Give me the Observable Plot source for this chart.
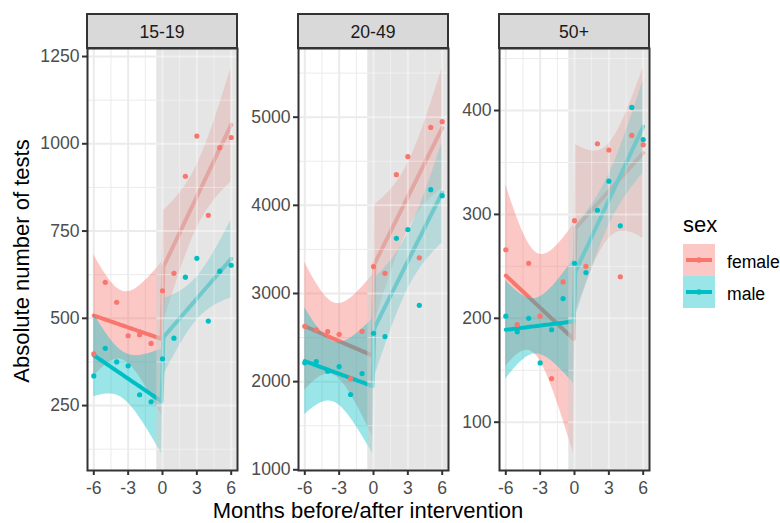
<!DOCTYPE html>
<html>
<head>
<meta charset="utf-8">
<script src="https://cdn.jsdelivr.net/npm/d3@7"></script>
<script src="https://cdn.jsdelivr.net/npm/@observablehq/plot@0.6"></script>
<style>
  body { margin: 0; background: #fff; font-family: "Liberation Sans", Arial, sans-serif; }
  #chart { position: relative; width: 780px; height: 523px; overflow: hidden; background: #fff; }
  .panel { position: absolute; }
  .strip { position: absolute; box-sizing: border-box; background: #d9d9d9; border: 2px solid #333;
           color: #1a1a1a; font-size: 17.6px; display: flex; align-items: center; justify-content: center; padding-top: 2px; }
  #overlay { position: absolute; left: 0; top: 0; }
</style>
</head>
<body>
<div id="chart"></div>
<script>
// ---------- data ----------
const months = [-6, -5, -4, -3, -2, -1, 0, 1, 2, 3, 4, 5, 6];
const ageGroups = ["15-19", "20-49", "50+"];
const sexes = ["female", "male"];

const female_15_19 = [398, 603, 546, 450, 453, 428, 579, 629, 907, 1022, 795, 989, 1018];
const male_15_19   = [335, 414, 375, 364, 281, 261, 384, 443, 618, 672, 492, 635, 652];
const female_20_49 = [2628, 2587, 2568, 2537, 2035, 2571, 3305, 3229, 4348, 4552, 3404, 4884, 4949];
const male_20_49   = [2213, 2228, 2118, 2171, 1854, 2092, 2549, 2511, 3626, 3725, 2866, 4178, 4110];
const female_50    = [266, 194, 253, 202, 142, 235, 294, 250, 368, 362, 240, 376, 367];
const male_50      = [202, 187, 200, 157, 189, 219, 253, 244, 304, 332, 289, 403, 372];

const yTicks_15_19 = [250, 500, 750, 1000, 1250];
const yMinor_15_19 = [125, 375, 625, 875, 1125];
const yTicks_20_49 = [1000, 2000, 3000, 4000, 5000];
const yMinor_20_49 = [1500, 2500, 3500, 4500, 5500];
const yTicks_50    = [100, 200, 300, 400];
const yMinor_50    = [150, 250, 350, 450];
const xTicks = [-6, -3, 0, 3, 6];
const xMinor = [-4.5, -1.5, 1.5, 4.5];
const interventionStart = -0.5;

// ---------- config ----------
const colors = { female: "#F8766D", male: "#00BFC4" };
const panels = [
  { label: ageGroups[0], female: female_15_19, male: male_15_19, ticks: yTicks_15_19, minor: yMinor_15_19, domain: [64, 1273], left: 87 },
  { label: ageGroups[1], female: female_20_49, male: male_20_49, ticks: yTicks_20_49, minor: yMinor_20_49, domain: [992, 5779], left: 298 },
  { label: ageGroups[2], female: female_50,    male: male_50,    ticks: yTicks_50,    minor: yMinor_50,    domain: [53.5, 459.7], left: 499 }
];
const xDomain = [-6.55, 6.55];
const W = 150, H = 422, ML = 60, MR = 4, MT = 4, MB = 40, PANEL_TOP = 48;

// segmented (interrupted time series) linear fit with 95% CI, like geom_smooth(method = "lm")
function segmentedFit(ys) {
  const pre = [], post = [];
  months.forEach((m, i) => (m < 0 ? pre : post).push([m, ys[i]]));
  const seg = pts => {
    const n = pts.length;
    const xm = d3.mean(pts, p => p[0]);
    const ym = d3.mean(pts, p => p[1]);
    const sxx = d3.sum(pts, p => (p[0] - xm) ** 2);
    const sxy = d3.sum(pts, p => (p[0] - xm) * (p[1] - ym));
    const b = sxy / sxx;
    const rss = d3.sum(pts, p => (p[1] - (ym + b * (p[0] - xm))) ** 2);
    return { n, xm, ym, sxx, b, rss };
  };
  const a = seg(pre), c = seg(post);
  const df = months.length - 4;
  const s = Math.sqrt((a.rss + c.rss) / df);
  const t = 2.262157; // qt(0.975, 9)
  const [x0, x1] = d3.extent(months);
  return d3.range(80).map(i => {
    const x = x0 + (x1 - x0) * i / 79;
    const f = x >= 0 ? c : a;
    const yhat = f.ym + f.b * (x - f.xm);
    const se = s * Math.sqrt(1 / f.n + (x - f.xm) ** 2 / f.sxx);
    return { x, y: yhat, lo: yhat - t * se, hi: yhat + t * se };
  });
}

const chart = document.getElementById("chart");

panels.forEach(p => {
  const pts = [];
  sexes.forEach(sx => months.forEach((m, i) => pts.push({ month: m, value: p[sx][i], sex: sx })));
  const fitF = segmentedFit(p.female);
  const fitM = segmentedFit(p.male);
  const allY = p.ticks.concat(p.minor);
  const hWhite = allY.map(v => ({ y: v, x1: xDomain[0], x2: interventionStart }));
  const hGrey  = allY.map(v => ({ y: v, x1: interventionStart, x2: xDomain[1] }));
  const isMajorY = v => p.ticks.includes(v);
  const vWhiteMajor = xTicks.filter(v => v < interventionStart);
  const vWhiteMinor = xMinor.filter(v => v < interventionStart);
  const vGreyMajor = xTicks.filter(v => v > interventionStart);
  const vGreyMinor = xMinor.filter(v => v > interventionStart);
  const band = [{ x1: interventionStart, x2: xDomain[1], y1: p.domain[0], y2: p.domain[1] }];

  const svg = Plot.plot({
    width: ML + W + MR, height: MT + H + MB,
    marginLeft: ML, marginRight: MR, marginTop: MT, marginBottom: MB,
    x: { domain: xDomain },
    y: { domain: p.domain },
    style: { fontFamily: '"Liberation Sans", Arial, sans-serif', fontSize: "17.6px", background: "transparent", overflow: "visible" },
    marks: [
      // grid (white region)
      Plot.ruleX(vWhiteMajor, { stroke: "#ebebeb", strokeWidth: 2 }),
      Plot.ruleX(vWhiteMinor, { stroke: "#ebebeb", strokeWidth: 1 }),
      Plot.ruleY(hWhite.filter(d => isMajorY(d.y)), { y: "y", x1: "x1", x2: "x2", stroke: "#ebebeb", strokeWidth: 2 }),
      Plot.ruleY(hWhite.filter(d => !isMajorY(d.y)), { y: "y", x1: "x1", x2: "x2", stroke: "#ebebeb", strokeWidth: 1 }),
      // smooths: female then male (ribbon, line)
      Plot.areaY(fitF, { x: "x", y1: "lo", y2: "hi", fill: colors.female, fillOpacity: 0.4, clip: true }),
      Plot.line(fitF, { x: "x", y: "y", stroke: colors.female, strokeWidth: 4, clip: true }),
      Plot.areaY(fitM, { x: "x", y1: "lo", y2: "hi", fill: colors.male, fillOpacity: 0.4, clip: true }),
      Plot.line(fitM, { x: "x", y: "y", stroke: colors.male, strokeWidth: 4, clip: true }),
      // intervention period shading
      Plot.rect(band, { x1: "x1", x2: "x2", y1: "y1", y2: "y2", fill: "#cfcfcf", fillOpacity: 0.55 }),
      // grid seen through shading
      Plot.ruleX(vGreyMajor, { stroke: "#ffffff", strokeOpacity: 0.4, strokeWidth: 2 }),
      Plot.ruleX(vGreyMinor, { stroke: "#ffffff", strokeOpacity: 0.4, strokeWidth: 1 }),
      Plot.ruleY(hGrey.filter(d => isMajorY(d.y)), { y: "y", x1: "x1", x2: "x2", stroke: "#ffffff", strokeOpacity: 0.4, strokeWidth: 2 }),
      Plot.ruleY(hGrey.filter(d => !isMajorY(d.y)), { y: "y", x1: "x1", x2: "x2", stroke: "#ffffff", strokeOpacity: 0.4, strokeWidth: 1 }),
      // points
      Plot.dot(pts, { x: "month", y: "value", fill: d => colors[d.sex], r: 2.6, stroke: null }),
      // frame and axes
      Plot.frame({ stroke: "#333333", strokeWidth: 2 }),
      Plot.axisX(xTicks, { tickSize: 5, tickPadding: 6, tickFormat: d => String(d), stroke: "#333333", strokeWidth: 2, fill: "#4d4d4d", fontSize: 17.6, label: null }),
      Plot.axisY(p.ticks, { tickSize: 5, tickPadding: 3, tickFormat: d => String(d), stroke: "#333333", strokeWidth: 2, fill: "#4d4d4d", fontSize: 17.6, label: null })
    ]
  });
  svg.classList.add("panel");
  svg.style.left = (p.left - ML) + "px";
  svg.style.top = (PANEL_TOP - MT) + "px";
  chart.appendChild(svg);

  const strip = document.createElement("div");
  strip.className = "strip";
  strip.textContent = p.label;
  strip.style.left = (p.left - 1) + "px";
  strip.style.top = "13px";
  strip.style.width = (W + 2) + "px";
  strip.style.height = "36px";
  chart.appendChild(strip);
});

// ---------- axis titles and legend ----------
const ns = "http://www.w3.org/2000/svg";
const ov = document.createElementNS(ns, "svg");
ov.setAttribute("id", "overlay");
ov.setAttribute("width", 780);
ov.setAttribute("height", 523);
ov.style.fontFamily = '"Liberation Sans", Arial, sans-serif';
function el(tag, attrs, text) {
  const e = document.createElementNS(ns, tag);
  for (const k in attrs) e.setAttribute(k, attrs[k]);
  if (text != null) e.textContent = text;
  ov.appendChild(e);
  return e;
}
el("text", { x: 368, y: 518.3, "text-anchor": "middle", "font-size": 22, fill: "#000" }, "Months before/after intervention");
el("text", { transform: "translate(29,261) rotate(-90)", "text-anchor": "middle", "font-size": 22, fill: "#000" }, "Absolute number of tests");
el("text", { x: 683, y: 231.5, "font-size": 22, fill: "#000" }, "sex");
sexes.forEach((sx, i) => {
  const top = 244 + i * 32;
  el("rect", { x: 683, y: top, width: 32, height: 32, fill: colors[sx], "fill-opacity": 0.4 });
  el("line", { x1: 686, x2: 712, y1: top + 16, y2: top + 16, stroke: colors[sx], "stroke-width": 4 });
  el("circle", { cx: 699, cy: top + 16, r: 2.8, fill: colors[sx] });
  el("text", { x: 727, y: top + 23.5, "font-size": 17.6, fill: "#000" }, sx);
});
chart.appendChild(ov);
</script>
</body>
</html>
